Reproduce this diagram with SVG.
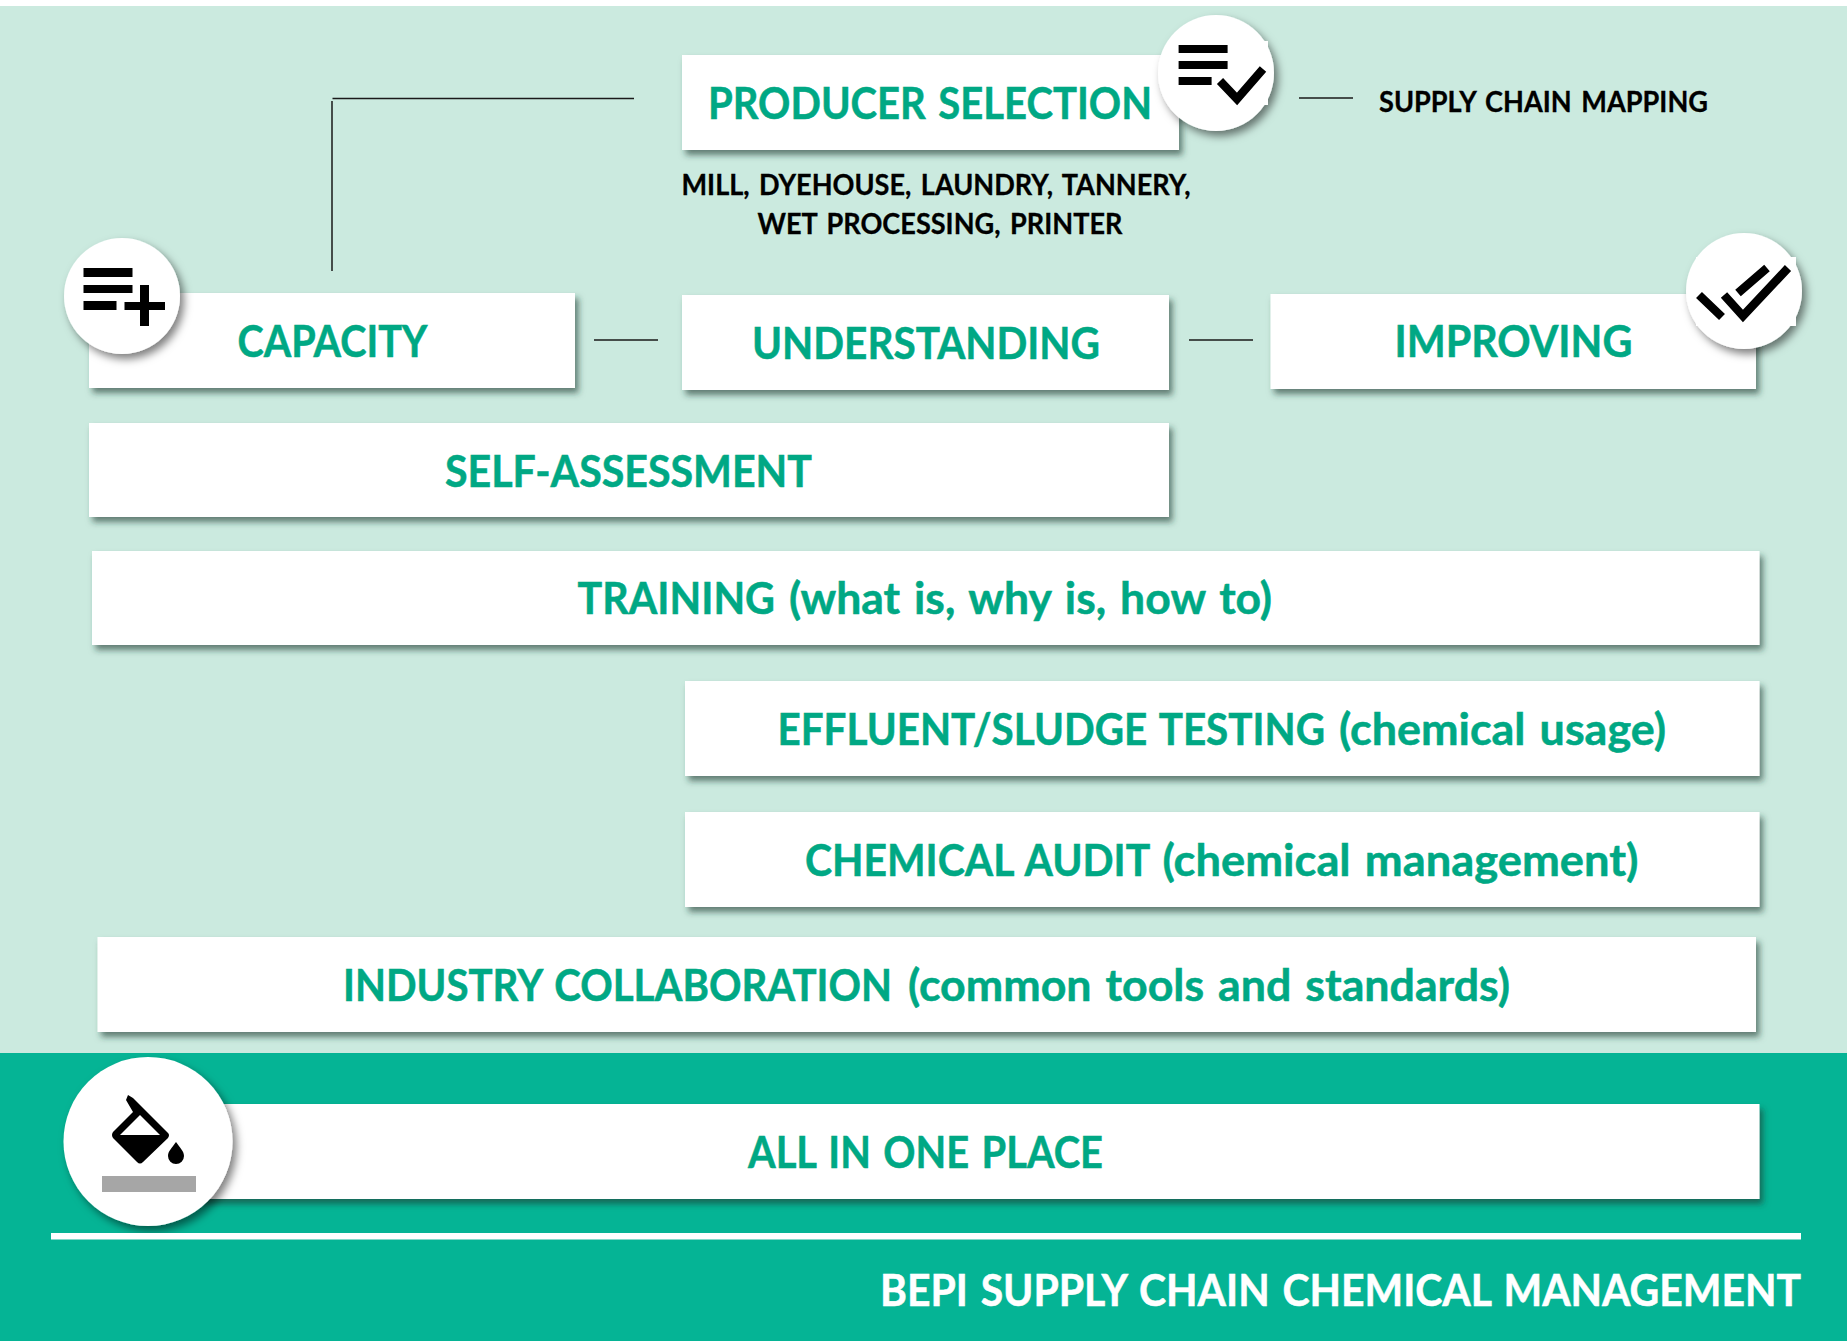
<svg xmlns="http://www.w3.org/2000/svg" width="1847" height="1341" viewBox="0 0 1847 1341">
<style>
.box{fill:#fff;filter:url(#sh)}
.circ{fill:#fff;filter:url(#shc)}
.t{font-family:"Lato","Open Sans","Liberation Sans",sans-serif;font-weight:700;font-size:43px;fill:#00a884;stroke:#00a884;stroke-width:.5;word-spacing:3px}
.k{font-family:"Lato","Open Sans","Liberation Sans",sans-serif;font-weight:700;font-size:28px;fill:#000;stroke:#000;stroke-width:.3;word-spacing:3px}
.w{font-family:"Lato","Open Sans","Liberation Sans",sans-serif;font-weight:700;font-size:43px;fill:#fff;stroke:#fff;stroke-width:.5;word-spacing:3px}
.ln{stroke:#1a1a1a;stroke-width:1.500;fill:none}
.ic{fill:#000}
.st{fill:none;stroke:#000;stroke-width:8.500}
</style>
<defs>
<filter id="sh" x="-5%" y="-15%" width="110%" height="135%"><feDropShadow dx="3.500" dy="5" stdDeviation="3" flood-color="#1c3b33" flood-opacity=".62"/></filter>
<filter id="shc" x="-20%" y="-20%" width="140%" height="140%"><feDropShadow dx="4" dy="5" stdDeviation="4" flood-color="#000" flood-opacity=".5"/></filter>
</defs>
<rect width="1847" height="1341" fill="#fff"/>
<rect y="6" width="1847" height="1047" fill="#cbeadf"/>
<rect y="1053" width="1847" height="288" fill="#05b495"/>
<g id="connectors">
<path class="ln" d="M332.500 98.500H634M332 101V271M594 340H658M1189 340H1253M1299 98H1353"/>
</g>
<g id="producer-selection">
<rect class="box" x="682" y="55" width="497" height="95"/>
<text class="t" x="708" y="118.500" textLength="444" lengthAdjust="spacingAndGlyphs">PRODUCER SELECTION</text>
<circle class="circ" cx="1216" cy="73" r="58"/>
<rect x="1175" y="41" width="93" height="64" fill="#fff"/>
<path class="ic" d="M1178.600 45h49v8h-49zM1178.600 61h49v8h-49zM1178.600 77h33v8h-33z"/>
<path class="st" d="M1220 81L1237 99L1263 69"/>
</g>
<g id="supply-chain-mapping"><text class="k" x="1379" y="112" textLength="329" lengthAdjust="spacingAndGlyphs">SUPPLY CHAIN MAPPING</text></g>
<g id="producer-types">
<text class="k" x="681.500" y="195" textLength="509" lengthAdjust="spacingAndGlyphs">MILL, DYEHOUSE, LAUNDRY, TANNERY,</text>
<text class="k" x="757.500" y="234" textLength="365" lengthAdjust="spacingAndGlyphs">WET PROCESSING, PRINTER</text>
</g>
<g id="capacity">
<rect class="box" x="89" y="293" width="486" height="95"/>
<text class="t" x="237.500" y="357" textLength="190" lengthAdjust="spacingAndGlyphs">CAPACITY</text>
<circle class="circ" cx="122" cy="296" r="58"/>
<path class="ic" d="M83.500 268h49v9h-49zM83.500 285h49v8h-49zM83.500 301h33v9h-33zM124.500 302h15.500v-17h9v17h16v8h-16v16h-9v-16h-15.500z"/>
</g>
<g id="understanding">
<rect class="box" x="682" y="295" width="487" height="95"/>
<text class="t" x="752" y="359" textLength="348" lengthAdjust="spacingAndGlyphs">UNDERSTANDING</text>
</g>
<g id="improving">
<rect class="box" x="1270.500" y="294" width="485.500" height="95"/>
<text class="t" x="1394.400" y="357" textLength="238" lengthAdjust="spacingAndGlyphs">IMPROVING</text>
<circle class="circ" cx="1744" cy="291" r="58"/>
<rect x="1696" y="257" width="100" height="69" fill="#fff"/>
<path class="st" d="M1699 295L1722 317M1724 295L1743 316L1788 268M1738 293L1767 268"/>
</g>
<g id="self-assessment">
<rect class="box" x="89" y="423" width="1080" height="94"/>
<text class="t" x="445" y="487" textLength="367" lengthAdjust="spacingAndGlyphs">SELF-ASSESSMENT</text>
</g>
<g id="training">
<rect class="box" x="92" y="551" width="1667.500" height="94"/>
<text class="t" y="614"><tspan x="577.500" textLength="197.500" lengthAdjust="spacingAndGlyphs">TRAINING</tspan> <tspan x="789" textLength="483" lengthAdjust="spacingAndGlyphs">(what is, why is, how to)</tspan></text>
</g>
<g id="effluent">
<rect class="box" x="685" y="681" width="1074.500" height="95"/>
<text class="t" y="745"><tspan x="777.500" textLength="547.500" lengthAdjust="spacingAndGlyphs">EFFLUENT/SLUDGE TESTING</tspan> <tspan x="1339" textLength="327" lengthAdjust="spacingAndGlyphs">(chemical usage)</tspan></text>
</g>
<g id="chemical-audit">
<rect class="box" x="685" y="812" width="1074.500" height="95"/>
<text class="t" y="876"><tspan x="805" textLength="344" lengthAdjust="spacingAndGlyphs">CHEMICAL AUDIT</tspan> <tspan x="1162.500" textLength="476" lengthAdjust="spacingAndGlyphs">(chemical management)</tspan></text>
</g>
<g id="industry">
<rect class="box" x="97.500" y="937" width="1658.500" height="95"/>
<text class="t" y="1001"><tspan x="343" textLength="549" lengthAdjust="spacingAndGlyphs">INDUSTRY COLLABORATION</tspan> <tspan x="908" textLength="602" lengthAdjust="spacingAndGlyphs">(common tools and standards)</tspan></text>
</g>
<g id="all-in-one">
<rect class="box" x="180" y="1104" width="1579.500" height="95"/>
<text class="t" x="748" y="1168" textLength="355" lengthAdjust="spacingAndGlyphs">ALL IN ONE PLACE</text>
<circle class="circ" cx="148" cy="1141.500" r="84.500"/>
<path class="ic" fill-rule="evenodd" d="M128 1095L133 1098L168 1133Q170 1135 168 1138L143 1162Q140 1165 137 1162L113 1138Q111 1135 113 1132L133 1112L126 1100ZM140 1115L120 1135H160Z"/>
<path class="ic" d="M176 1142C180 1148 184 1151 184 1156A8 8 0 0 1 168 1156C168 1151 172 1148 176 1142Z"/>
<rect x="102" y="1176" width="94" height="16" fill="#a6a6a6"/>
</g>
<g id="footer">
<rect x="51" y="1233" width="1750" height="6.500" fill="#fff"/>
<text class="w" x="880" y="1306" textLength="921" lengthAdjust="spacingAndGlyphs">BEPI SUPPLY CHAIN CHEMICAL MANAGEMENT</text>
</g>
</svg>
